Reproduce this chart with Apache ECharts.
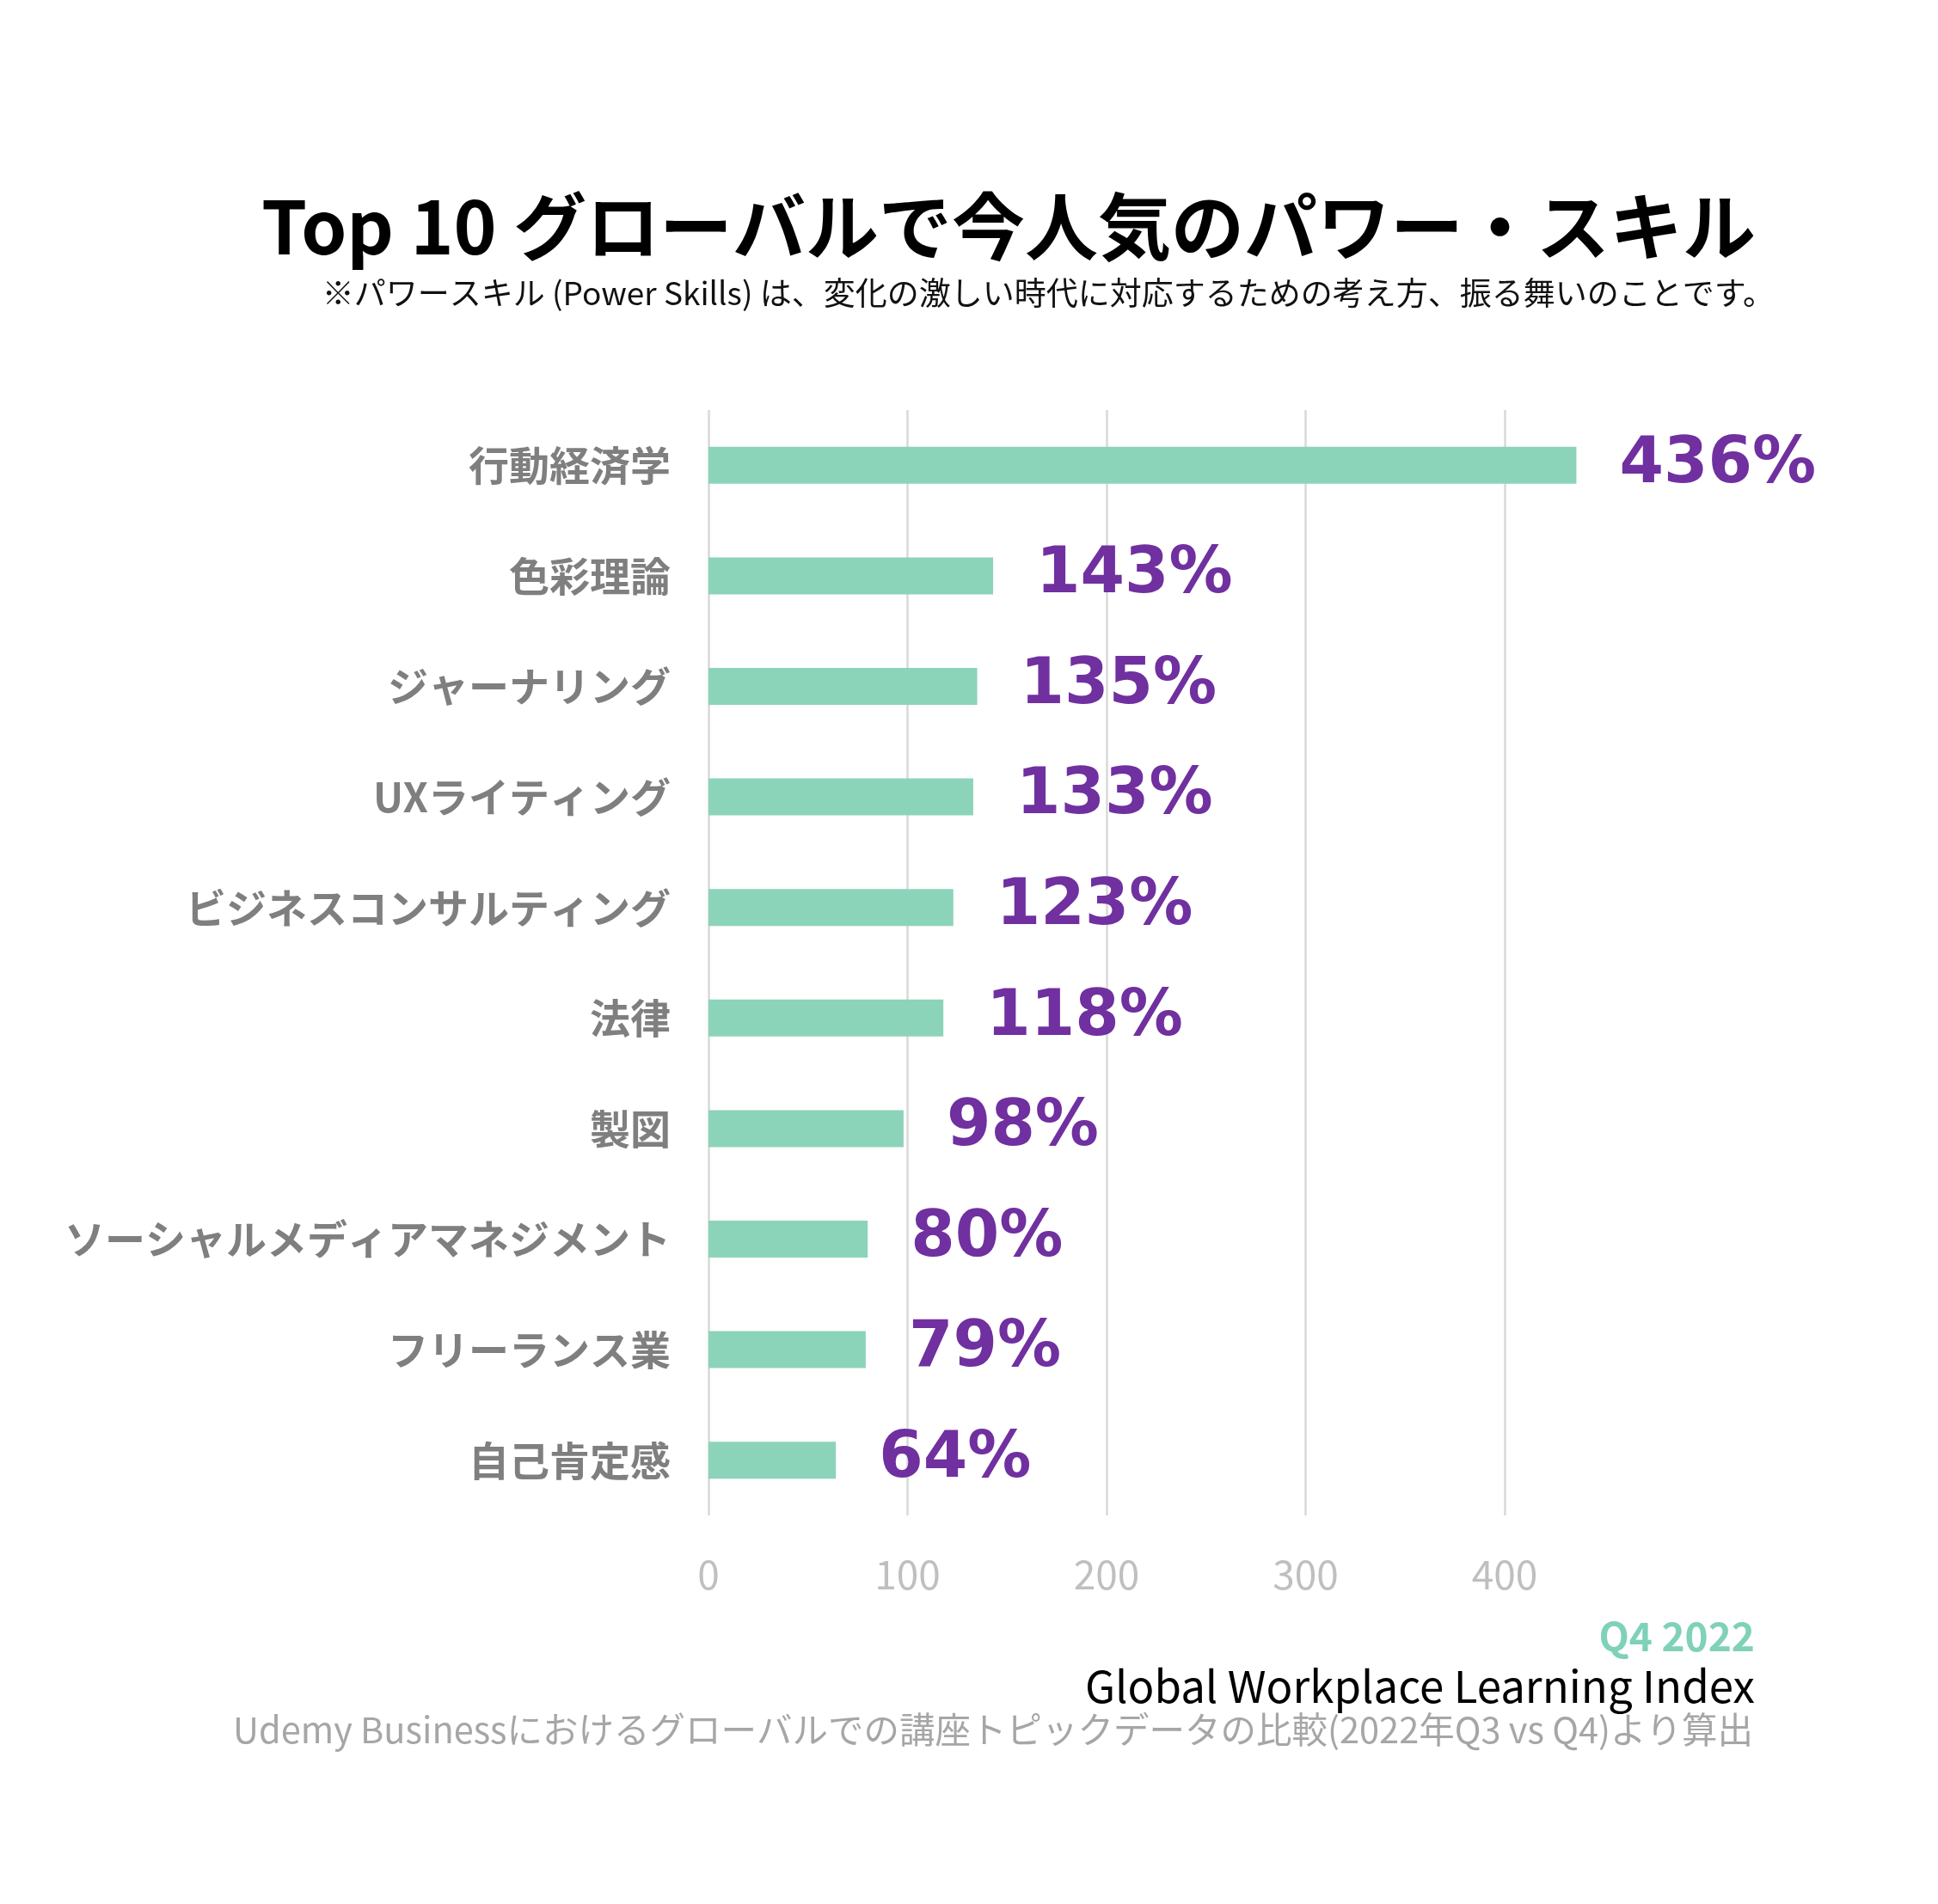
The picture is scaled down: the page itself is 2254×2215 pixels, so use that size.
<!DOCTYPE html>
<html>
<head>
<meta charset="utf-8">
<title>Top 10 グローバルで今人気のパワー・スキル</title>
<script src="https://cdn.jsdelivr.net/npm/echarts@6/dist/echarts.min.js"></script>
<style>
  html, body { margin: 0; padding: 0; background: #fff; }
  #chart { width: 2254px; height: 2215px; }
</style>
</head>
<body>
<div id="chart"></div>
<script>
// データ
var skills = [
  "行動経済学", "色彩理論", "ジャーナリング", "UXライティング",
  "ビジネスコンサルティング", "法律", "製図",
  "ソーシャルメディアマネジメント", "フリーランス業", "自己肯定感"
];
var growth = [436, 143, 135, 133, 123, 118, 98, 80, 79, 64];
var axisTicks = [0, 100, 200, 300, 400];

var titleText = "Top 10 グローバルで今人気のパワー・スキル";
var subText = "※パワースキル (Power Skills) は、変化の激しい時代に対応するための考え方、振る舞いのことです。";
var periodText = "Q4 2022";
var indexText = "Global Workplace Learning Index";
var sourceText = "Udemy Businessにおけるグローバルでの講座トピックデータの比較(2022年Q3 vs Q4)より算出";

var JP = '"Noto Sans CJK JP", "Noto Sans", sans-serif';

var chart = echarts.init(document.getElementById("chart"), null, { renderer: "canvas" });

function headText(text, y, size, weight, color, right) {
  return {
    type: "text",
    x: right,
    y: y,
    style: {
      text: text,
      fill: color,
      font: weight + " " + size + "px " + JP,
      align: "right",
      verticalAlign: "middle"
    }
  };
}

chart.setOption({
  backgroundColor: "#ffffff",
  animation: false,
  graphic: [
    headText(titleText, 264, 85, "bold", "#000000", 2042),
    headText(subText, 341, 37, "normal", "#111111", 2064),
    headText(periodText, 1904, 46, "bold", "#7fd1b9", 2041),
    headText(indexText, 1962, 51, "normal", "#000000", 2041),
    headText(sourceText, 2012, 41.5, "normal", "#a6a6a6", 2039)
  ],
  grid: {
    left: 824,
    top: 477,
    width: 1065,
    height: 1286,
    containLabel: false
  },
  xAxis: {
    type: "value",
    min: 0,
    max: 460,
    interval: 100,
    axisLine: { show: false },
    axisTick: { show: false },
    splitLine: {
      show: true,
      showMaxLine: false,
      lineStyle: { color: "#d9d9d9", width: 2.5 }
    },
    axisLabel: {
      show: true,
      showMaxLabel: false,
      margin: 46,
      color: "#bfbfbf",
      fontSize: 46,
      fontFamily: JP,
      formatter: function (v) {
        return axisTicks.indexOf(v) >= 0 ? String(v) : "";
      }
    }
  },
  yAxis: {
    type: "category",
    data: skills,
    inverse: true,
    axisLine: { show: false },
    axisTick: { show: false },
    splitLine: { show: false },
    axisLabel: {
      margin: 44,
      color: "#7f7f7f",
      fontSize: 47,
      fontWeight: "bold",
      fontFamily: JP
    }
  },
  series: [
    {
      type: "bar",
      data: growth,
      barWidth: 43,
      itemStyle: { color: "#8cd4b9" },
      label: {
        show: true,
        position: "right",
        distance: 50,
        formatter: "{c}%",
        color: "#7030a0",
        fontSize: 74,
        fontWeight: "bold",
        fontFamily: '"DejaVu Sans", sans-serif'
      }
    }
  ]
});
</script>
</body>
</html>
